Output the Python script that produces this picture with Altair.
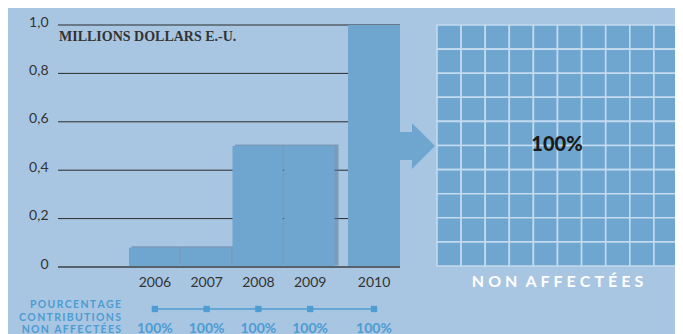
import altair as alt
import pandas as pd

# ---- data ----
years = ["2006", "2007", "2008", "2009", "2010"]
amounts = [0.08, 0.08, 0.50, 0.50, 1.00]          # millions USD
pct_labels = ["100%", "100%", "100%", "100%", "100%"]
y_ticks = [0, 0.2, 0.4, 0.6, 0.8, 1.0]
unallocated_pct = 100
grid_side = 10
unit_label = "MILLIONS DOLLARS E.-U."
row_label = ["POURCENTAGE", "CONTRIBUTIONS", "NON AFFECTÉES"]
grid_caption = "NON AFFECTÉES"

BG = "#a8c6e2"
BAR = "#6ea6d0"
ACC = "#4d9cd3"
FONT = "Lato"


def spaced(s, gap="\u2009"):
    return "\u2002".join(gap.join(w) for w in s.split(" "))


df = pd.DataFrame({"year": years, "amount": amounts, "pct": pct_labels})
dfA = df.iloc[:4]
dfB = df.iloc[4:]

YS = alt.Scale(domain=[0, 1], range=[259, 17], nice=False, zero=False)


def band(domain, rng):
    return alt.Scale(type="band", domain=domain, range=rng, paddingInner=0, paddingOuter=0)


xA = alt.X("year:N", scale=band(years[:4], [71, 278]), axis=None)
xB = alt.X("year:N", scale=band(years[4:], [290, 342]), axis=None)

yaxis = alt.Axis(
    values=y_ticks,
    labelExpr="datum.value == 0 ? '0' : replace(format(datum.value, '.1f'), '.', ',')",
    domain=False, ticks=False, grid=False,
    labelFont=FONT, labelFontSize=14, labelColor="#333333",
    labelPadding=10, labelBaseline="alphabetic", labelOffset=1, title=None,
)

# gridlines
grid_rules = alt.Chart(pd.DataFrame({"v": y_ticks[1:]})).mark_rule(
    color="#2b2b2b", strokeWidth=1
).encode(y=alt.Y("v:Q", scale=YS, axis=None), x=alt.value(0), x2=alt.value(342))

base_rule = alt.Chart(pd.DataFrame({"v": y_ticks[:1]})).mark_rule(
    color="#56616b", strokeWidth=2
).encode(y=alt.Y("v:Q", scale=YS, axis=None), x=alt.value(0), x2=alt.value(342))

connector = alt.Chart(pd.DataFrame({"a": [0]})).mark_rule(color=ACC, strokeWidth=1.3).encode(
    x=alt.value(97), x2=alt.value(315), y=alt.value(301)
)


def group(d, x, shadow):
    layers = []
    if shadow:
        layers.append(
            alt.Chart(d).mark_bar(color="#56789a", opacity=0.55, xOffset=2.5, yOffset=-1.5).encode(
                x=x, y=alt.Y("amount:Q", scale=YS, axis=yaxis)
            )
        )
        bars = alt.Chart(d).mark_bar(color=BAR, width={"band": 0.97}, xOffset=-0.8).encode(
            x=x, y=alt.Y("amount:Q", scale=YS, axis=yaxis)
        )
    else:
        bars = alt.Chart(d).mark_bar(color=BAR).encode(
            x=x, y=alt.Y("amount:Q", scale=YS, axis=None)
        )
    layers.append(bars)
    layers.append(
        alt.Chart(d).mark_text(font=FONT, fontSize=14, color="#333333", baseline="alphabetic").encode(
            x=x, y=alt.value(279), text="year:N"
        )
    )
    layers.append(
        alt.Chart(d).mark_square(size=40, color=ACC, opacity=1).encode(x=x, y=alt.value(301))
    )
    layers.append(
        alt.Chart(d).mark_text(font=FONT, fontSize=14, fontWeight="bold", color=ACC,
                               baseline="alphabetic").encode(
            x=x, y=alt.value(325), text="pct:N"
        )
    )
    return alt.layer(*layers)


layerA = group(dfA, xA, True)
layerB = group(dfB, xB, False)

arrow_path = "M-0.761,-0.609L-0.239,-0.609L-0.239,-1L0.761,0L-0.239,1L-0.239,0.609L-0.761,0.609Z"
arrow = alt.Chart(pd.DataFrame({"a": [0]})).mark_point(
    shape=arrow_path, size=2116, filled=True, color=BAR, opacity=1, strokeWidth=0
).encode(x=alt.value(359.5), y=alt.value(138))

cells = pd.DataFrame(
    [{"row": r, "col": c, "filled": (r * grid_side + c) < unallocated_pct}
     for r in range(grid_side) for c in range(grid_side)]
)
grid_cells = alt.Chart(cells).mark_rect(stroke="#c4daee", strokeWidth=1.6).encode(
    x=alt.X("col:O", scale=band(list(range(grid_side)), [379, 620]), axis=None),
    y=alt.Y("row:O", scale=band(list(range(grid_side)), [17, 258]), axis=None),
    color=alt.Color("filled:N", scale=alt.Scale(domain=[True, False], range=[BAR, BG]), legend=None),
)

center_txt = alt.Chart(pd.DataFrame({"t": [f"{unallocated_pct}%"]})).mark_text(
    font=FONT, fontSize=20, fontWeight=900, color="#1a1a1a", baseline="alphabetic"
).encode(text="t:N", x=alt.value(499), y=alt.value(142.5))

caption = alt.Chart(pd.DataFrame({"t": [spaced(grid_caption, "\u2009\u2009")]})).mark_text(
    font=FONT, fontSize=16, fontWeight="bold", color="white", baseline="alphabetic"
).encode(text="t:N", x=alt.value(499.5), y=alt.value(279))

unit_txt = alt.Chart(pd.DataFrame({"t": [unit_label]})).mark_text(
    font="Liberation Serif", fontSize=14, fontWeight="bold", color="#333333",
    align="left", baseline="alphabetic"
).encode(text="t:N", x=alt.value(1), y=alt.value(33))

left_txt = alt.Chart(pd.DataFrame({"t": ["\n".join(spaced(line) for line in row_label)]})).mark_text(
    font=FONT, fontSize=10.5, fontWeight="bold", color=ACC, align="right",
    baseline="alphabetic", lineBreak="\n", lineHeight=12.5
).encode(text="t:N", x=alt.value(63), y=alt.value(300))

chart = alt.layer(
    grid_rules, connector, layerA, layerB, base_rule, arrow, grid_cells,
    center_txt, caption, unit_txt, left_txt
).resolve_scale(x="independent", y="independent").properties(
    width=617, height=326,
    padding={"left": 50, "top": 0, "right": 0, "bottom": 0},
    autosize=alt.AutoSizeParams(type="none"),
    background=BG,
).configure_view(stroke=None)

chart.save("out.html", embed_options={"renderer": "svg", "actions": False})
